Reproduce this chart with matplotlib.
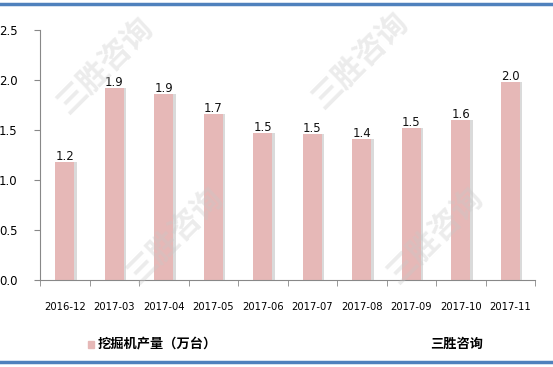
import matplotlib
matplotlib.use("Agg")
import matplotlib.pyplot as plt
from matplotlib.lines import Line2D
from matplotlib.patches import Rectangle

categories = ["2016-12", "2017-03", "2017-04", "2017-05", "2017-06",
              "2017-07", "2017-08", "2017-09", "2017-10", "2017-11"]
values = [1.18, 1.92, 1.86, 1.66, 1.47, 1.46, 1.41, 1.52, 1.60, 1.98]
labels = ["1.2", "1.9", "1.9", "1.7", "1.5", "1.5", "1.4", "1.5", "1.6", "2.0"]
yticks = [0.0, 0.5, 1.0, 1.5, 2.0, 2.5]
series_name = "挖掘机产量（万台）"
source = "三胜咨询"
watermark = "三胜咨询"

plt.rcParams['font.family'] = ['DejaVu Sans', 'Noto Sans CJK SC']

fig = plt.figure(figsize=(5.53, 3.67), dpi=100)
ax = fig.add_axes([40/553, 1-280/367, 495/553, 250/367])

x = list(range(len(categories)))
w = 0.39
# shadow
ax.bar([i + 0.05 for i in x], values, width=w, color="#DADADA", zorder=1)
bars = ax.bar(x, values, width=w, color="#E6B8B7", zorder=2)
for i, (v, lab) in enumerate(zip(values, labels)):
    ax.text(i, v - 0.01, lab, ha="center", va="bottom", fontsize=8.5, color="#111111", zorder=4)

ax.set_xlim(-0.5, len(categories) - 0.5)
ax.set_ylim(0, 2.5)
ax.set_yticks(yticks)
ax.set_yticklabels([f"{t:.1f}" for t in yticks], fontsize=8.5)
ax.set_xticks(x)
ax.set_xticklabels(categories, fontsize=7.2)
ax.set_xticks([i - 0.5 for i in range(len(categories) + 1)], minor=True)
ax.tick_params(axis="x", which="major", length=0, pad=16)
ax.tick_params(axis="x", which="minor", length=4, color="#888888", direction="out")
ax.tick_params(axis="y", length=4, color="#888888", pad=12)
for s in ["top", "right"]:
    ax.spines[s].set_visible(False)
for s in ["left", "bottom"]:
    ax.spines[s].set_color("#888888")
    ax.spines[s].set_linewidth(0.8)

# watermarks
for (wx, wy) in [(105, 65), (360, 60), (175, 235), (435, 235)]:
    fig.text(wx/553, 1-wy/367, watermark, fontsize=22, fontweight="bold",
             family=["Noto Sans CJK SC"], color="#C8C8C8", alpha=0.35,
             rotation=45, ha="center", va="center", zorder=10)

# legend-ish
fig.patches.append(Rectangle((88/553, 1-348/367), 6/553, 7/367, transform=fig.transFigure,
                             color="#E6B8B7", figure=fig))
fig.text(98/553, 1-344/367, series_name, fontsize=9.5, fontweight="bold",
         family=["Noto Sans CJK SC"], va="center", ha="left")
fig.text(430/553, 1-344/367, source, fontsize=9.5, fontweight="bold",
         family=["Noto Sans CJK SC"], va="center", ha="left")

# border lines
fig.add_artist(Line2D([0, 1], [1-4/367, 1-4/367], transform=fig.transFigure, color="#4F81BD", lw=2.5))
fig.add_artist(Line2D([0, 1], [1-362/367, 1-362/367], transform=fig.transFigure, color="#4F81BD", lw=2.5))

fig.savefig("out.png", dpi=100)
